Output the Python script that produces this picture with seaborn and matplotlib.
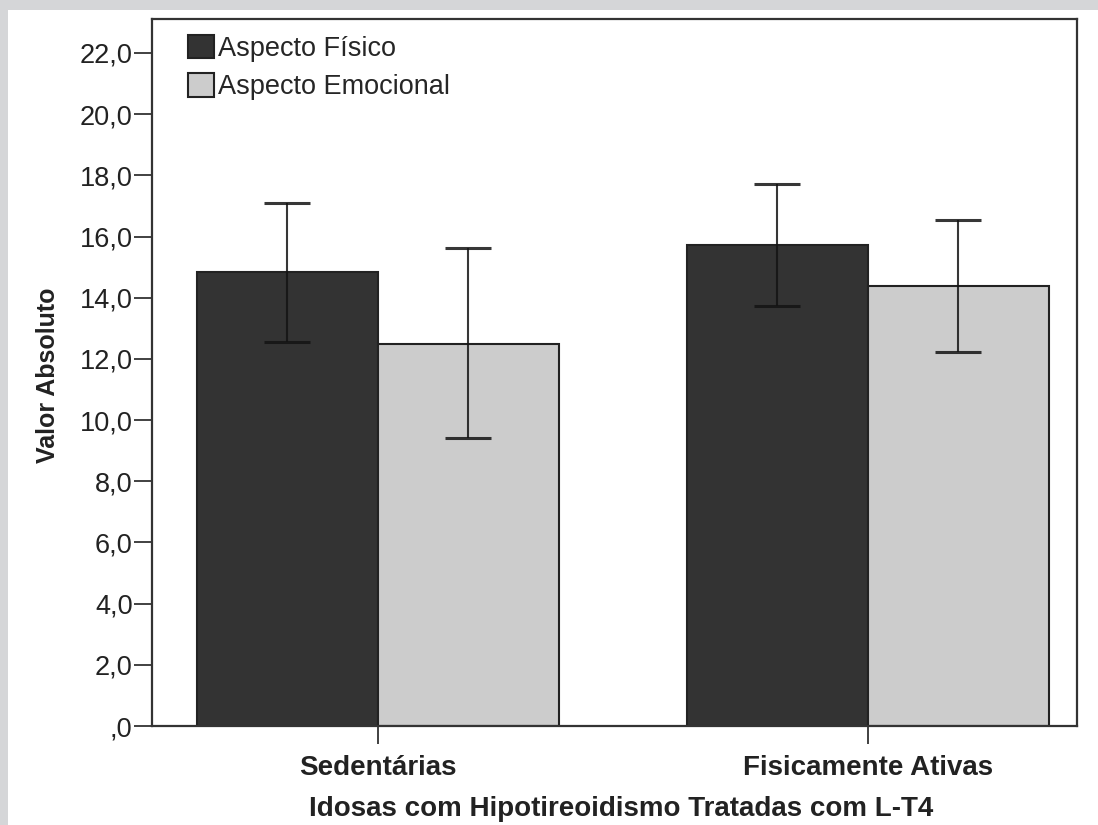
import matplotlib
matplotlib.use("Agg")
import matplotlib.pyplot as plt
import seaborn as sns
import pandas as pd
import numpy as np
from matplotlib.ticker import FuncFormatter, MultipleLocator
from matplotlib.patches import Rectangle, Patch

# ---- data ----
groups = ["Sedentárias", "Fisicamente Ativas"]
series = ["Aspecto Físico", "Aspecto Emocional"]
fisico_mean = [14.84, 15.72]
fisico_low = [12.55, 13.73]
fisico_high = [17.09, 17.71]
emoc_mean = [12.48, 14.38]
emoc_low = [9.41, 12.22]
emoc_high = [15.62, 16.54]
colors = ["#333333", "#cccccc"]
xlabel = "Idosas com Hipotireoidismo Tratadas com L-T4"
ylabel = "Valor Absoluto"

df = pd.DataFrame({
    "grupo": groups * 2,
    "serie": [series[0]] * 2 + [series[1]] * 2,
    "valor": fisico_mean + emoc_mean,
    "low": fisico_low + emoc_low,
    "high": fisico_high + emoc_high,
})

sns.set_style("ticks")
plt.rcParams["font.family"] = ["Liberation Sans", "DejaVu Sans"]

W, H = 1098, 825
fig = plt.figure(figsize=(W / 100, H / 100), dpi=100)
fig.patch.set_facecolor("#d5d6d8")
fig.patches.append(Rectangle((8 / W, 0), 1 - 8 / W, 1 - 10 / H, transform=fig.transFigure,
                             facecolor="white", edgecolor="none", zorder=-10))

ax = fig.add_axes([152 / W, 1 - 726 / H, (1077 - 152) / W, (726 - 19) / H])
ax.set_zorder(1)
ax.set_facecolor("white")

sns.barplot(data=df, x="grupo", y="valor", hue="serie", order=groups, hue_order=series,
            palette=colors, width=0.739, gap=0, errorbar=None, edgecolor="#222222",
            linewidth=1.5, ax=ax, legend=False, saturation=1)

# error bars at bar centers
for i, s in enumerate(series):
    sub = df[df["serie"] == s].set_index("grupo").loc[groups]
    cont = ax.containers[i]
    xs = [p.get_x() + p.get_width() / 2 for p in cont.patches]
    m = sub["valor"].values
    yerr = np.vstack([m - sub["low"].values, sub["high"].values - m])
    ax.errorbar(xs, m, yerr=yerr, fmt="none", ecolor="#141414", elinewidth=1.5,
                capsize=16.5, capthick=2.2, zorder=5, alpha=0.85)

ax.set_xlim(-0.461, 1.427)
ax.set_ylim(0, 23.11)
ax.yaxis.set_major_locator(MultipleLocator(2))

def fmt(v, pos):
    s = f"{v:.1f}".replace(".", ",")
    if s.startswith("0,"):
        s = s[1:]
    return s
ax.yaxis.set_major_formatter(FuncFormatter(fmt))

for sp in ax.spines.values():
    sp.set_visible(True)
    sp.set_color("#333333")
    sp.set_linewidth(1.6)

ax.tick_params(axis="y", length=13, width=1.3, color="#333333", pad=1, labelsize=19.5, labelcolor="#222222")
ax.tick_params(axis="x", length=13, width=1.3, color="#333333", pad=8, labelsize=20, labelcolor="#222222")
for t in ax.get_xticklabels():
    t.set_fontweight("bold")

ax.set_xlabel(xlabel, fontsize=20, fontweight="bold", color="#222222")
ax.set_ylabel(ylabel, fontsize=18, fontweight="bold", color="#222222")
ax.xaxis.set_label_coords(0.507, -0.117)
ax.xaxis.label.set_va("center")
ax.yaxis.set_label_coords(-0.1125, 0.4965)
ax.yaxis.label.set_va("center")

handles = [Patch(facecolor=c, edgecolor="#222222", linewidth=1.5) for c in colors]
ax.legend(handles, series, loc="upper left", bbox_to_anchor=(36 / 925, 1 - 16 / 707),
          frameon=False, fontsize=19.5, handlelength=0.95, handleheight=0.95,
          handletextpad=0.15, labelspacing=0.42, borderaxespad=0, borderpad=0)

fig.savefig("out.png", dpi=100, facecolor=fig.get_facecolor())
